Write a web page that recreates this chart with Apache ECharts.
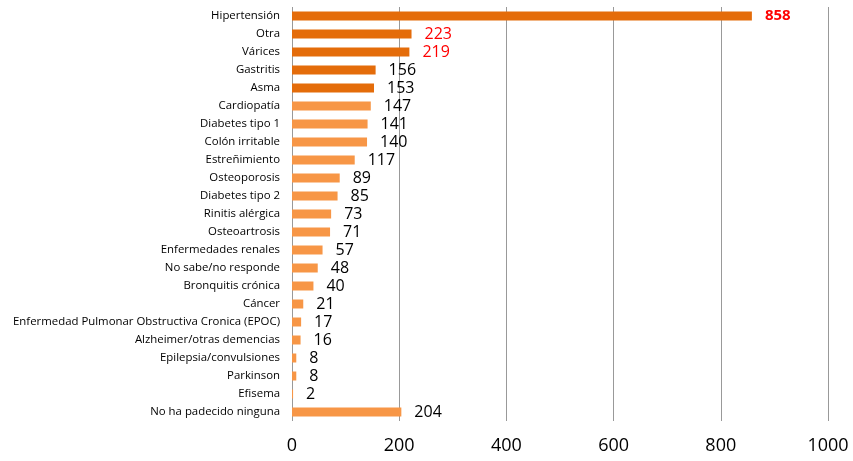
<!DOCTYPE html>
<html>
<head>
<meta charset="utf-8">
<script src="https://cdn.jsdelivr.net/npm/echarts@6/dist/echarts.min.js"></script>
<style>html,body{margin:0;padding:0;background:#fff}#c{width:853px;height:461px}</style>
</head>
<body>
<div id="c"></div>
<script>
const categories = ["Hipertensión","Otra","Várices","Gastritis","Asma","Cardiopatía","Diabetes tipo 1","Colón irritable","Estreñimiento","Osteoporosis","Diabetes tipo 2","Rinitis alérgica","Osteoartrosis","Enfermedades renales","No sabe/no responde","Bronquitis crónica","Cáncer","Enfermedad Pulmonar Obstructiva Cronica (EPOC)","Alzheimer/otras demencias","Epilepsia/convulsiones","Parkinson","Efisema","No ha padecido ninguna"];
const values = [858,223,219,156,153,147,141,140,117,89,85,73,71,57,48,40,21,17,16,8,8,2,204];
const xTicks = [0,200,400,600,800,1000];

const chart = echarts.init(document.getElementById('c'), null, {renderer:'canvas'});
const data = values.map((v,i)=>{
  const item = {value:v, itemStyle:{color: i<5 ? '#E46C0A' : '#F79646'}};
  if (i===0) item.label = {color:'#FF0000', fontWeight:'bold', fontSize:15};
  else if (i<3) item.label = {color:'#FF0000'};
  return item;
});
chart.setOption({
  animation:false,
  grid:{left:292,right:25,top:7,bottom:40,containLabel:false},
  xAxis:{type:'value',min:xTicks[0],max:xTicks[xTicks.length-1],interval:200,
    axisLine:{show:false},axisTick:{show:false},
    splitLine:{show:true,lineStyle:{color:'#999',width:1}},
    axisLabel:{fontFamily:'Open Sans',fontSize:18,color:'#000',margin:16,formatter:v=>String(v)}},
  yAxis:{type:'category',data:categories,inverse:true,
    axisLine:{show:false},axisTick:{show:false},splitLine:{show:false},
    axisLabel:{fontFamily:'Open Sans',fontSize:11.4,color:'#000',margin:12}},
  series:[{type:'bar',data:data,barWidth:9,
    label:{show:true,position:'right',distance:13,fontFamily:'Open Sans',fontSize:16,color:'#000'}}]
});
</script>
</body>
</html>
